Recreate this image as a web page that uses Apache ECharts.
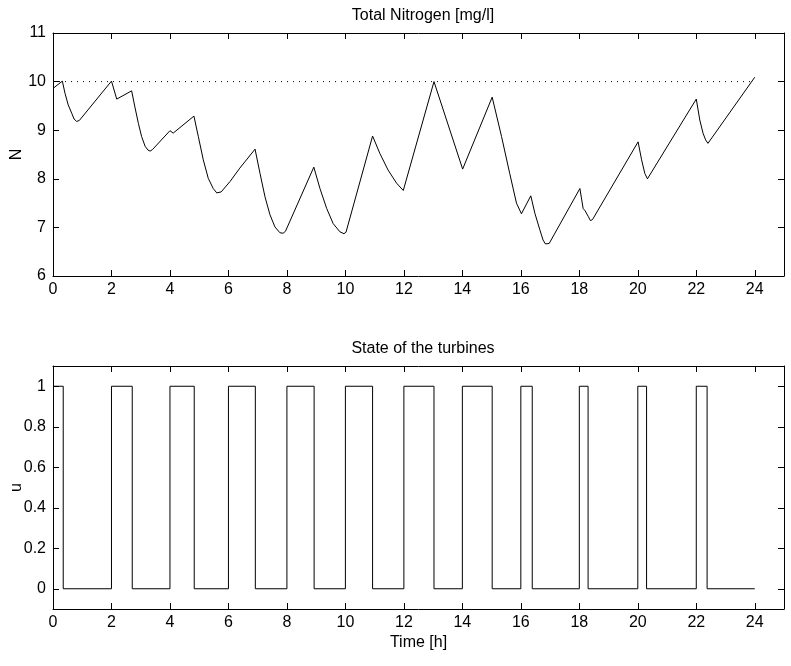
<!DOCTYPE html>
<html>
<head>
<meta charset="utf-8">
<title>Total Nitrogen and turbine state</title>
<script src="https://cdn.jsdelivr.net/npm/echarts@6/dist/echarts.min.js"></script>
<style>
  html, body { margin: 0; padding: 0; background: #ffffff; }
  #chart { width: 791px; height: 666px; }
</style>
</head>
<body>
<div id="chart"></div>
<script>
// Time axis ticks (hours)
const timeTicks = [0, 2, 4, 6, 8, 10, 12, 14, 16, 18, 20, 22, 24];
const nitrogenTicks = [6, 7, 8, 9, 10, 11];
const stateTicks = [0, 0.2, 0.4, 0.6, 0.8, 1];

// Total nitrogen concentration over the day
const nitrogenHours = [
  0.00, 0.32, 0.41, 0.52, 0.64, 0.72, 0.81, 0.90,
  2.00, 2.18, 2.69, 2.80, 2.92, 3.03, 3.15, 3.25, 3.32, 3.40,
  4.00, 4.11, 4.82, 4.97, 5.14, 5.31, 5.48, 5.60, 5.65, 5.75,
  6.05, 6.39, 6.91, 7.08, 7.25, 7.42, 7.59, 7.76, 7.87, 7.95,
  8.92, 9.13, 9.36, 9.58, 9.81, 9.95, 10.02,
  10.93, 11.18, 11.46, 11.75, 11.98,
  13.03, 14.01, 15.02, 15.34, 15.62, 15.85, 16.02,
  16.34, 16.48, 16.65, 16.76, 16.84, 16.90, 16.97,
  18.02, 18.13, 18.20, 18.25, 18.31, 18.38, 18.45,
  20.01, 20.13, 20.24, 20.33,
  22.00, 22.12, 22.23, 22.32, 22.40,
  24.00
];
const nitrogen = [
  9.86, 10.01, 9.76, 9.52, 9.35, 9.23, 9.18, 9.20,
  10.01, 9.64, 9.81, 9.48, 9.14, 8.87, 8.67, 8.59, 8.57, 8.60,
  8.99, 8.94, 9.29, 8.87, 8.39, 8.01, 7.80, 7.71, 7.70, 7.73,
  7.94, 8.22, 8.61, 8.11, 7.63, 7.26, 7.01, 6.89, 6.88, 6.92,
  8.24, 7.80, 7.39, 7.08, 6.91, 6.87, 6.90,
  8.88, 8.52, 8.18, 7.91, 7.76,
  10.00, 8.20, 9.68, 8.87, 8.11, 7.50, 7.28,
  7.65, 7.29, 6.95, 6.74, 6.66, 6.64, 6.67,
  7.80, 7.39, 7.34, 7.32, 7.22, 7.14, 7.16,
  8.76, 8.39, 8.11, 8.00,
  9.64, 9.21, 8.94, 8.80, 8.73,
  10.09
];
const nitrogenLimit = 10;
const limitHours = [0, 24];

// Turbine on/off switching instants and the state held from each instant
const switchHours = [0, 0.35, 2, 2.71, 4, 4.83, 6, 6.92, 8, 8.93, 10, 10.93,
  12, 13.03, 14, 15.02, 16, 16.39, 18, 18.30, 20, 20.30, 22, 22.37, 24];
const turbineState = [1, 0, 1, 0, 1, 0, 1, 0, 1, 0, 1, 0,
  1, 0, 1, 0, 1, 0, 1, 0, 1, 0, 1, 0, 0];

const FONT = '"Liberation Sans", Arial, Helvetica, sans-serif';
const INK = '#000000';
const FS = 16;

const nitrogenData = nitrogenHours.map((t, i) => [t, nitrogen[i]]);
const limitData = limitHours.map(t => [t, nitrogenLimit]);
const stateData = switchHours.map((t, i) => [t, turbineState[i]]);

function boxAxis(extra) {
  return Object.assign({
    type: 'value',
    axisLine: { show: true, onZero: false, lineStyle: { color: INK, width: 1 } },
    axisTick: { show: true, inside: true, length: 6, lineStyle: { color: INK, width: 1 } },
    splitLine: { show: false },
    axisLabel: { show: false }
  }, extra);
}

function xAxisPair(gridIndex) {
  const base = { gridIndex: gridIndex, min: 0, max: 25 };
  const tick = { show: true, inside: true, length: 6, customValues: timeTicks, lineStyle: { color: INK, width: 1 } };
  return [
    boxAxis(Object.assign({}, base, {
      position: 'bottom',
      axisTick: tick,
      axisLabel: { show: true, customValues: timeTicks, color: INK, fontSize: FS, fontFamily: FONT, margin: 6 }
    }, gridIndex === 1 ? {
      name: 'Time [h]', nameLocation: 'middle', nameGap: 26, nameMoveOverlap: false,
      nameTextStyle: { color: INK, fontSize: FS, fontFamily: FONT }
    } : {})),
    boxAxis(Object.assign({}, base, { position: 'top', axisTick: tick }))
  ];
}

function yAxisPair(gridIndex, min, max, ticks, name) {
  const base = { gridIndex: gridIndex, min: min, max: max };
  const tick = { show: true, inside: true, length: 6, customValues: ticks, lineStyle: { color: INK, width: 1 } };
  return [
    boxAxis(Object.assign({}, base, {
      position: 'left',
      axisTick: tick,
      axisLabel: { show: true, customValues: ticks, color: INK, fontSize: FS, fontFamily: FONT, margin: 7 },
      name: name, nameLocation: 'middle', nameGap: 28, nameMoveOverlap: false,
      nameTextStyle: { color: INK, fontSize: FS, fontFamily: FONT }
    })),
    boxAxis(Object.assign({}, base, { position: 'right', axisTick: tick }))
  ];
}

const chart = echarts.init(document.getElementById('chart'), null, { renderer: 'canvas' });

chart.setOption({
  backgroundColor: '#ffffff',
  animation: false,
  title: [
    {
      text: 'Total Nitrogen [mg/l]', left: 418, top: 3, textAlign: 'center',
      textStyle: { color: INK, fontSize: FS, fontWeight: 'normal', fontFamily: FONT }
    },
    {
      text: 'State of the turbines', left: 418, top: 336, textAlign: 'center',
      textStyle: { color: INK, fontSize: FS, fontWeight: 'normal', fontFamily: FONT }
    }
  ],
  grid: [
    { left: 53, right: 7, top: 33, height: 243, containLabel: false, outerBoundsMode: 'none' },
    { left: 53, right: 7, top: 366, height: 243, containLabel: false, outerBoundsMode: 'none' }
  ],
  xAxis: [].concat(xAxisPair(0), xAxisPair(1)),
  yAxis: [].concat(
    yAxisPair(0, 6, 11, nitrogenTicks, 'N'),
    yAxisPair(1, -0.1, 1.1, stateTicks, 'u')
  ),
  series: [
    {
      name: 'limit', type: 'line', xAxisIndex: 0, yAxisIndex: 0,
      data: limitData, showSymbol: false, silent: true,
      lineStyle: { color: INK, width: 1, type: [1, 5] }
    },
    {
      name: 'N', type: 'line', xAxisIndex: 0, yAxisIndex: 0,
      data: nitrogenData, showSymbol: false, smooth: false,
      lineStyle: { color: INK, width: 1 }
    },
    {
      name: 'u', type: 'line', xAxisIndex: 2, yAxisIndex: 2,
      data: stateData, showSymbol: false, step: 'end',
      lineStyle: { color: INK, width: 1 }
    }
  ]
});
</script>
</body>
</html>
